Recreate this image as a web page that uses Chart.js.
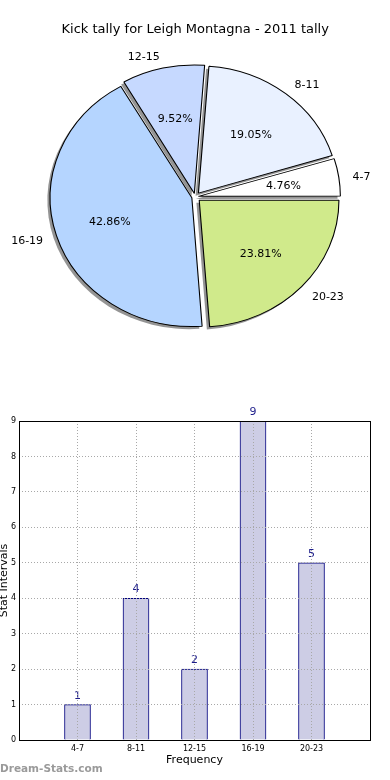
<!DOCTYPE html>
<html><head><meta charset="utf-8">
<script src="https://cdn.jsdelivr.net/npm/chart.js@4/dist/chart.umd.min.js"></script>
<style>
html,body{margin:0;padding:0;background:#fff;}
#wrap{position:relative;width:390px;height:780px;overflow:hidden;background:#fff;}
#pie{position:absolute;left:0;top:0;}
#bar{position:absolute;left:0;top:390px;}
#wm{position:absolute;left:0;top:762px;font:bold 10.5px "DejaVu Sans",sans-serif;color:#9a9a9a;line-height:13px;white-space:nowrap;}
</style></head><body>
<div id="wrap">
<canvas id="pie" width="390" height="390"></canvas>
<canvas id="bar" width="390" height="390"></canvas>
<div id="wm">Dream-Stats.com</div>
</div>
<script>
// ---- data ----
const chartTitle = 'Kick tally for Leigh Montagna - 2011 tally';
const categories = ['4-7', '8-11', '12-15', '16-19', '20-23'];
const counts = [1, 4, 2, 9, 5];
const sliceColors = ['#ffffff', '#e9f1ff', '#c6d9ff', '#b5d5ff', '#d0ea8b'];
const xAxisTitle = 'Frequency';
const yAxisTitle = 'Stat Intervals';
const yMax = 9;
const watermark = 'Dream-Stats.com';

// ---- style constants ----
const FONT = 'DejaVu Sans';
Chart.defaults.font.family = FONT;
Chart.defaults.color = '#000';
const PIE_RADIUS = 127;
const PIE_STRETCH = 1.1;
const EXPLODE = 5;
const SHADOW_DX = -2.8, SHADOW_DY = 2.6;
const LABEL_DY = 1.8;

const total = counts.reduce((a, b) => a + b, 0);
// matplotlib draws counter-clockwise from east; Chart.js draws clockwise -> reverse order
const pieLabels = categories.slice().reverse();
const pieValues = counts.slice().reverse();
const pieColors = sliceColors.slice().reverse();

function stretch(ctx, cx, cy) {
  ctx.translate(cx, cy); ctx.scale(PIE_STRETCH, 1); ctx.translate(-cx, -cy);
}

const piePlugin = {
  id: 'piePlugin',
  beforeDatasetsDraw(chart) {
    const ctx = chart.ctx;
    const arcs = chart.getDatasetMeta(0).data;
    const cx = arcs[0].x, cy = arcs[0].y;
    // shadows drawn with the library's own arc elements
    ctx.save();
    ctx.translate(SHADOW_DX, SHADOW_DY);
    stretch(ctx, cx, cy);
    arcs.forEach(a => {
      const o = a.options;
      a.options = Object.assign({}, o, {backgroundColor: 'rgba(0,0,0,0.42)', borderWidth: 0});
      a.draw(ctx);
      a.options = o;
    });
    ctx.restore();
    ctx.save();
    stretch(ctx, cx, cy);
  },
  afterDatasetsDraw(chart) {
    const ctx = chart.ctx;
    ctx.restore();
    const arcs = chart.getDatasetMeta(0).data;
    ctx.save();
    ctx.fillStyle = '#000';
    ctx.font = '11px "' + FONT + '"';
    ctx.textBaseline = 'middle';
    arcs.forEach((a, i) => {
      const mid = (a.startAngle + a.endAngle) / 2;
      const R = a.outerRadius;
      const c = Math.cos(mid), s = Math.sin(mid);
      const pct = (pieValues[i] / total * 100).toFixed(2) + '%';
      let d = EXPLODE + 0.6 * R;
      ctx.textAlign = 'center';
      ctx.fillText(pct, a.x + c * d * PIE_STRETCH, a.y + s * d + LABEL_DY);
      d = EXPLODE + 1.1 * R;
      ctx.textAlign = c >= 0 ? 'left' : 'right';
      ctx.fillText(pieLabels[i], a.x + c * d * PIE_STRETCH, a.y + s * d + LABEL_DY);
    });
    ctx.restore();
  }
};

new Chart(document.getElementById('pie'), {
  type: 'pie',
  data: {
    labels: pieLabels,
    datasets: [{
      data: pieValues,
      backgroundColor: pieColors,
      borderColor: '#000',
      borderWidth: 1,
      radius: PIE_RADIUS,
      offset: (ctx) => {
        const circ = ctx.raw / total * 2 * Math.PI;
        const fix = 1 - Math.sin(Math.min(Math.PI, circ));
        return 4 * EXPLODE / (1 + fix);
      }
    }]
  },
  options: {
    responsive: false,
    animation: false,
    events: [],
    rotation: 90,
    layout: {padding: {left: 10.4, right: 10, top: 0, bottom: 34}},
    plugins: {
      legend: {display: false},
      tooltip: {enabled: false},
      title: {display: true, text: chartTitle, color: '#000',
        font: {size: 13, weight: 'normal', family: FONT, lineHeight: 1.2},
        padding: {top: 22, bottom: 0}}
    }
  },
  plugins: [piePlugin]
});

// ---- bar chart ----
const barLabels = [''].concat(categories, ['']);
const barValues = [null].concat(counts, [null]);

const barPlugin = {
  id: 'barPlugin',
  afterDatasetsDraw(chart) {
    const ctx = chart.ctx;
    const meta = chart.getDatasetMeta(0);
    ctx.save();
    ctx.fillStyle = '#1c1c8a';
    ctx.font = '11px "' + FONT + '"';
    ctx.textAlign = 'center';
    ctx.textBaseline = 'alphabetic';
    meta.data.forEach((b, i) => {
      const v = barValues[i];
      if (v === null) return;
      ctx.fillText(String(v), b.x, b.y - 6);
    });
    ctx.restore();
  },
  afterDraw(chart) {
    const ctx = chart.ctx, a = chart.chartArea;
    ctx.save();
    ctx.strokeStyle = '#000';
    ctx.lineWidth = 1;
    ctx.strokeRect(Math.round(a.left) + 0.5, Math.round(a.top) + 0.5,
      Math.round(a.right - a.left), Math.round(a.bottom - a.top));
    ctx.restore();
  }
};

new Chart(document.getElementById('bar'), {
  type: 'bar',
  data: {
    labels: barLabels,
    datasets: [{
      data: barValues,
      backgroundColor: '#cdcde5',
      borderColor: '#00007f',
      borderWidth: 1,
      barThickness: 26
    }]
  },
  options: {
    responsive: false,
    animation: false,
    events: [],
    layout: {padding: {left: 0, right: 20, top: 31, bottom: 0}},
    plugins: {legend: {display: false}, tooltip: {enabled: false}},
    scales: {
      x: {
        offset: false,
        grid: {offset: false, color: '#a8a8a8', lineWidth: 1, drawTicks: false, z: 1},
        border: {display: false, dash: [1, 2]},
        ticks: {font: {size: 8}, color: '#000', padding: 4, maxRotation: 0, autoSkip: false},
        title: {display: true, text: xAxisTitle, color: '#000', font: {size: 11, lineHeight: 1.2}, padding: {top: 0, bottom: 13.4}},
        afterFit(s) { s.height = 40; }
      },
      y: {
        min: 0, max: yMax,
        grid: {color: '#a8a8a8', lineWidth: 1, drawTicks: false, z: 1},
        border: {display: false, dash: [1, 2]},
        ticks: {stepSize: 1, font: {size: 8}, color: '#000', padding: 3},
        title: {display: true, text: yAxisTitle, color: '#000', font: {size: 11, lineHeight: 0.75}, padding: {top: 0, bottom: 0}},
        afterFit(s) { s.width = 19; }
      }
    }
  },
  plugins: [barPlugin]
});
</script>
</body></html>
